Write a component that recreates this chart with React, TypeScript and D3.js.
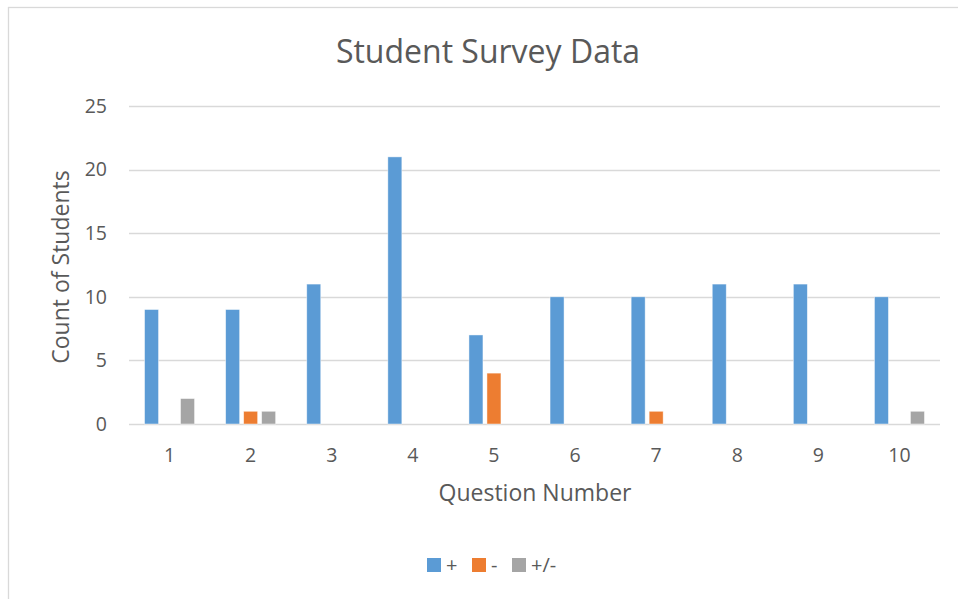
import React from "react";
import * as d3 from "d3";

const categories = ["1", "2", "3", "4", "5", "6", "7", "8", "9", "10"];
const seriesNames = ["+", "-", "+/-"];
const plusValues = [9, 9, 11, 21, 7, 10, 10, 11, 11, 10];
const minusValues = [0, 1, 0, 0, 4, 0, 1, 0, 0, 0];
const mixedValues = [2, 1, 0, 0, 0, 0, 0, 0, 0, 1];
const yTicks = [0, 5, 10, 15, 20, 25];
const colors = ["#5B9BD5", "#ED7D31", "#A5A5A5"];

const W = 958;
const H = 599;
const FONT = "'Open Sans', sans-serif";

export default function App() {
  const series = [plusValues, minusValues, mixedValues];
  const x = d3.scaleBand<string>().domain(categories).range([129, 940]);
  const y = d3.scaleLinear().domain([0, 25]).range([424, 106]);
  const barW = 14;
  const gap = 4;
  const groupW = barW * 3 + gap * 2;
  const inner = d3
    .scaleOrdinal<number, number>()
    .domain([0, 1, 2])
    .range([0, barW + gap, 2 * (barW + gap)]);

  const legendItems = [
    { x: 427, tx: 446 },
    { x: 472, tx: 491 },
    { x: 512, tx: 531 },
  ];

  return (
    <svg
      width={W}
      height={H}
      style={{ position: "absolute", left: 0, top: 0, background: "#fff" }}
      fontFamily={FONT}
    >
      <rect x={8.5} y={7.5} width={1000} height={1000} fill="#fff" stroke="#d9d9d9" strokeWidth={1.3} />
      <text x={488} y={63} textAnchor="middle" fontSize={32} fill="#595959">
        Student Survey Data
      </text>
      {yTicks.map((t) => (
        <g key={t}>
          <line x1={129} x2={940} y1={Math.round(y(t)) + 0.5} y2={Math.round(y(t)) + 0.5} stroke="#d9d9d9" strokeWidth={1.3} />
          <text x={107} y={y(t)} dy="0.35em" textAnchor="end" fontSize={19.5} fill="#595959">
            {t}
          </text>
        </g>
      ))}
      {series.map((vals, si) =>
        vals.map((v, ci) => {
          if (v === 0) return null;
          const cx = (x(categories[ci]) as number) + x.bandwidth() / 2;
          const bx = cx - groupW / 2 + inner(si);
          return (
            <rect
              key={`${si}-${ci}`}
              x={bx}
              y={y(v)}
              width={barW}
              height={y(0) - y(v)}
              fill={colors[si]}
              stroke="#fff"
              strokeOpacity={0.6}
              strokeWidth={0.75}
            />
          );
        })
      )}
      {categories.map((c) => (
        <text key={c} x={(x(c) as number) + x.bandwidth() / 2} y={455} dy="0.35em" textAnchor="middle" fontSize={19.5} fill="#595959">
          {c}
        </text>
      ))}
      <text x={535} y={493} dy="0.35em" textAnchor="middle" fontSize={23} fill="#595959">
        Question Number
      </text>
      <text transform="translate(61,267) rotate(-90)" dy="0.35em" textAnchor="middle" fontSize={23} fill="#595959">
        Count of Students
      </text>
      {seriesNames.map((n, i) => (
        <g key={n}>
          <rect x={legendItems[i].x} y={558} width={14} height={14} fill={colors[i]} />
          <text x={legendItems[i].tx} y={565} dy="0.35em" fontSize={20} fill="#595959">
            {n}
          </text>
        </g>
      ))}
    </svg>
  );
}
